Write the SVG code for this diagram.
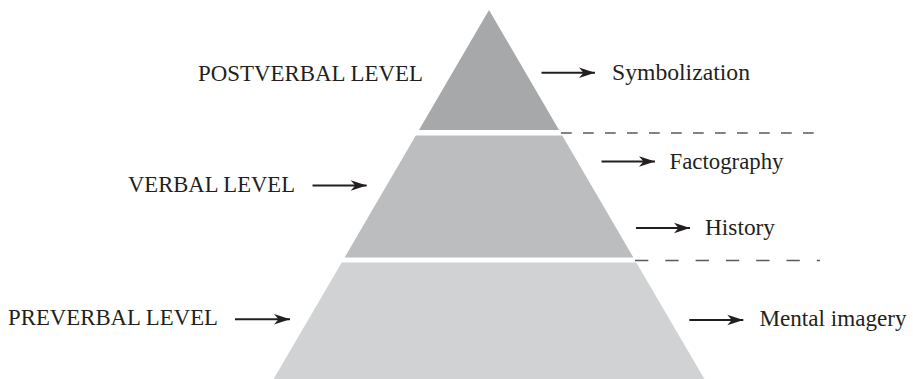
<svg xmlns="http://www.w3.org/2000/svg" width="913" height="379" viewBox="0 0 913 379">
  <style>
    .lbl { font-family: "Liberation Serif", "Times New Roman", serif; font-size: 22.5px; fill: #231f20; }
    .arrow { stroke: #231f20; stroke-width: 2; fill: none; marker-end: url(#head); }
    .dash { stroke: #58595b; stroke-width: 1.3; fill: none; }
  </style>
  <defs>
    <marker id="head" markerUnits="userSpaceOnUse" markerWidth="18" markerHeight="12" viewBox="-17 -6 18 12" refX="0" refY="0" orient="auto">
      <path d="M0,0 L-16,-5.2 L-11.5,0 L-16,5.2 Z" fill="#231f20"/>
    </marker>
  </defs>
  <rect width="913" height="379" fill="#ffffff"/>

  <g id="postverbal">
    <polygon points="489,10 559,130 419,130" fill="#a7a8aa"/>
    <text class="lbl" x="198" y="81" textLength="225" lengthAdjust="spacingAndGlyphs">POSTVERBAL LEVEL</text>
    <text class="lbl" x="612" y="80" textLength="138" lengthAdjust="spacingAndGlyphs">Symbolization</text>
  </g>

  <g id="verbal">
    <polygon points="415.8,135.5 562.2,135.5 633.4,257.5 344.6,257.5" fill="#bcbdbf"/>
    <text class="lbl" x="128" y="192" textLength="167" lengthAdjust="spacingAndGlyphs">VERBAL LEVEL</text>
    <text class="lbl" x="669.5" y="168.5" textLength="114" lengthAdjust="spacingAndGlyphs">Factography</text>
    <text class="lbl" x="705" y="235" textLength="70" lengthAdjust="spacingAndGlyphs">History</text>
  </g>

  <g id="preverbal">
    <polygon points="341.7,262.5 636.3,262.5 704.4,379 273.6,379" fill="#d1d2d4"/>
    <text class="lbl" x="8" y="325" textLength="210" lengthAdjust="spacingAndGlyphs">PREVERBAL LEVEL</text>
    <text class="lbl" x="759.5" y="326" textLength="147" lengthAdjust="spacingAndGlyphs">Mental imagery</text>
  </g>

  <g id="connectors">
    <line class="dash" x1="561" y1="133" x2="818" y2="133" stroke-dasharray="10.7 11.3"/>
    <line class="dash" x1="635" y1="260.5" x2="820" y2="260.5" stroke-dasharray="13.3 17"/>
    <line class="arrow" x1="541.5" y1="72.7" x2="595" y2="72.7"/>
    <line class="arrow" x1="312.5" y1="185.5" x2="366.7" y2="185.5"/>
    <line class="arrow" x1="235" y1="319.3" x2="290" y2="319.3"/>
    <line class="arrow" x1="601.5" y1="161.5" x2="655" y2="161.5"/>
    <line class="arrow" x1="636" y1="228" x2="690" y2="228"/>
    <line class="arrow" x1="689.3" y1="320" x2="743.3" y2="320"/>
  </g>
</svg>
